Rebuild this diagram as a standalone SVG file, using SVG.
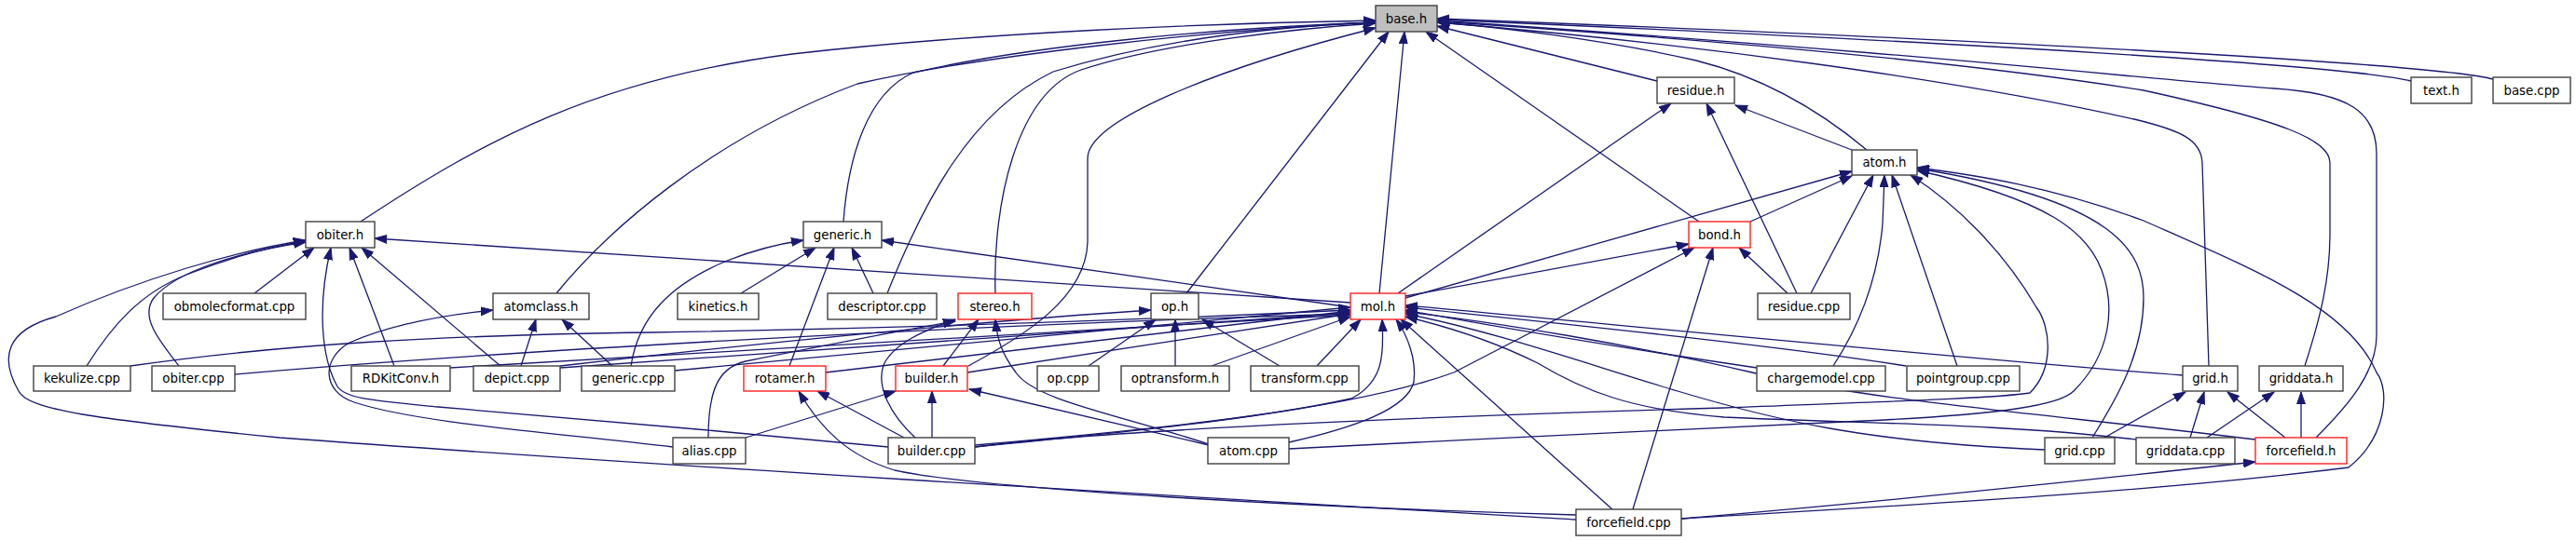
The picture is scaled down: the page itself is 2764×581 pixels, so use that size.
<svg xmlns="http://www.w3.org/2000/svg" width="2764" height="581" viewBox="0 0 2764 581">
<style>
.n rect{fill:#fff;stroke:#404040;stroke-width:1.4}
.r rect{stroke:#ff2020}
.g rect{fill:#bfbfbf}
text{font-family:"DejaVu Sans","Liberation Sans",sans-serif;font-size:13.3px;text-anchor:middle;fill:#000}
#edges path{fill:none;stroke:#191970;stroke-width:1.3;marker-end:url(#a)}
</style>
<defs>
<marker id="a" markerWidth="14" markerHeight="10" refX="13" refY="5" orient="auto" markerUnits="userSpaceOnUse">
<path d="M0,0.5 L13,5 L0,9.5 z" fill="#191970" stroke="#191970" stroke-width="1"/>
</marker>
</defs>
<rect width="2764" height="581" fill="#fff"/>
<g id="edges">
<path d="M387,238 C520,150 640,85 850,58 C1050,35 1300,25 1476,22"/>
<path d="M597,315 C650,250 760,150 920,90 C1050,60 1300,32 1476,24"/>
<path d="M905,238 C910,170 930,100 980,78 C1100,50 1300,30 1476,24"/>
<path d="M952,315 C990,220 1040,120 1130,77 C1250,40 1380,28 1476,24"/>
<path d="M1068,315 C1065,220 1090,100 1160,75 C1250,45 1400,30 1476,25"/>
<path d="M1039,393 C1100,360 1165,320 1167,260 L1167,170 C1167,130 1300,75 1476,30"/>
<path d="M1273,315 L1490,34"/>
<path d="M1480,315 L1507,34"/>
<path d="M1823,238 L1530,34"/>
<path d="M1778,87 L1542,28"/>
<path d="M2003,161 C1960,125 1900,85 1820,65 C1720,42 1600,28 1542,24"/>
<path d="M2587,87 C2520,70 2100,45 1542,21"/>
<path d="M2675,85 C2620,70 2200,45 1542,20"/>
<path d="M2370,393 L2363,175 C2362,150 2340,140 2290,128 C2100,85 1800,45 1542,24"/>
<path d="M2473,393 C2490,340 2500,300 2500,250 L2500,175 C2500,150 2450,130 2300,97 C2100,65 1800,40 1542,23"/>
<path d="M2485,470 C2520,435 2550,400 2550,360 L2550,165 C2550,120 2520,100 2440,95 C2300,85 2100,60 1542,22"/>
<path d="M1987,161 L1862,113"/>
<path d="M1500,315 L1793,111"/>
<path d="M1928,315 L1831,111"/>
<path d="M1508,320 L1987,184"/>
<path d="M1878,238 L1987,189"/>
<path d="M1943,315 L2010,188"/>
<path d="M1967,393 C1995,350 2015,300 2020,240 L2022,188"/>
<path d="M2100,393 L2030,188"/>
<path d="M1046,480 C1200,460 1600,445 1850,438 C2000,432 2140,428 2178,422 C2205,395 2200,350 2185,330 C2150,270 2100,220 2050,188"/>
<path d="M1383,482 C1600,470 1900,458 2000,452 C2150,445 2210,435 2225,420 C2265,380 2270,330 2255,290 C2240,250 2200,215 2057,183"/>
<path d="M2245,470 C2270,430 2300,380 2300,320 C2300,270 2270,215 2057,181"/>
<path d="M1804,557 C2000,545 2300,530 2520,502 C2560,470 2565,420 2550,400 C2520,330 2420,290 2300,237 C2200,200 2120,188 2057,180"/>
<path d="M1508,318 L1812,262"/>
<path d="M1046,478 C1250,460 1450,440 1560,400 L1818,266"/>
<path d="M1752,547 L1838,266"/>
<path d="M1918,315 L1866,266"/>
<path d="M1449,325 L402,256"/>
<path d="M1691,558 C1300,535 700,500 300,470 C100,450 30,440 20,420 C0,385 5,355 60,340 C150,300 250,270 328,258"/>
<path d="M93,393 C120,350 150,315 200,295 C250,275 290,265 328,259"/>
<path d="M192,393 C170,365 150,340 165,320 C190,290 260,270 328,260"/>
<path d="M273,315 L337,266"/>
<path d="M953,480 C800,465 600,448 470,437 C400,430 370,428 362,415 C345,385 340,330 355,266"/>
<path d="M423,393 L375,266"/>
<path d="M537,393 L388,266"/>
<path d="M1449,330 L946,258"/>
<path d="M677,393 C685,340 720,305 780,280 C810,268 835,262 862,258"/>
<path d="M795,315 L875,266"/>
<path d="M847,393 L895,266"/>
<path d="M937,315 L914,266"/>
<path d="M722,480 C600,465 450,455 380,432 C345,420 345,385 375,368 C420,348 480,338 529,333"/>
<path d="M559,393 L575,343"/>
<path d="M657,393 L603,343"/>
<path d="M1012,393 L1050,343"/>
<path d="M1297,477 C1200,445 1110,430 1090,400 C1075,380 1070,365 1068,343"/>
<path d="M982,470 C955,445 940,415 948,392 C958,370 990,355 1025,343"/>
<path d="M760,470 C760,420 770,395 800,388 C880,372 960,356 1025,345"/>
<path d="M1168,393 L1240,343"/>
<path d="M1261,393 L1261,343"/>
<path d="M1373,393 L1290,343"/>
<path d="M601,393 C800,370 1050,345 1235,333"/>
<path d="M1413,393 L1460,343"/>
<path d="M1046,480 C1200,465 1350,450 1450,428 C1485,410 1485,380 1483,343"/>
<path d="M1383,475 C1450,460 1510,440 1517,410 C1520,385 1510,360 1498,343"/>
<path d="M1730,547 L1503,343"/>
<path d="M1885,395 C1750,375 1600,350 1508,333"/>
<path d="M2045,393 C1900,370 1650,345 1508,330"/>
<path d="M2342,403 C2100,385 1750,350 1508,328"/>
<path d="M2194,483 C2000,475 1900,450 1800,420 C1700,390 1600,355 1508,337"/>
<path d="M2292,472 C2150,455 2000,455 1850,448 C1750,440 1700,420 1650,390 C1600,365 1550,350 1508,340"/>
<path d="M2420,472 C2200,445 2000,430 1880,400 C1750,370 1600,345 1508,335"/>
<path d="M140,393 C300,370 470,360 700,357 C1000,352 1300,340 1449,333"/>
<path d="M252,402 C500,380 1000,350 1449,337"/>
<path d="M483,395 L1449,338"/>
<path d="M601,395 L1449,336"/>
<path d="M724,398 L1449,330"/>
<path d="M886,400 L1449,334"/>
<path d="M1038,400 L1449,337"/>
<path d="M1300,393 L1449,340"/>
<path d="M1000,470 L1000,420"/>
<path d="M800,470 L961,420"/>
<path d="M1297,478 L1040,418"/>
<path d="M970,470 L877,420"/>
<path d="M1691,553 C1400,545 1050,525 960,505 C910,490 880,460 857,420"/>
<path d="M2258,470 L2345,421"/>
<path d="M2350,470 L2365,421"/>
<path d="M2452,470 L2390,421"/>
<path d="M2368,470 L2440,421"/>
<path d="M2469,470 L2469,421"/>
<path d="M1804,557 C1950,545 2200,520 2420,496"/>
</g>
<g id="base_h" class="n g"><rect x="1476" y="6" width="66" height="28"/><text x="1509" y="25">base.h</text></g>
<g id="residue_h" class="n"><rect x="1778" y="83" width="83" height="28"/><text x="1819.5" y="102">residue.h</text></g>
<g id="text_h" class="n"><rect x="2587" y="83" width="65" height="28"/><text x="2619.5" y="102">text.h</text></g>
<g id="base_cpp" class="n"><rect x="2675" y="83" width="83" height="28"/><text x="2716.5" y="102">base.cpp</text></g>
<g id="atom_h" class="n"><rect x="1987" y="161" width="70" height="27"/><text x="2022" y="179">atom.h</text></g>
<g id="obiter_h" class="n"><rect x="328" y="238" width="74" height="28"/><text x="365" y="257">obiter.h</text></g>
<g id="generic_h" class="n"><rect x="862" y="238" width="84" height="28"/><text x="904" y="257">generic.h</text></g>
<g id="bond_h" class="n r"><rect x="1812" y="238" width="66" height="28"/><text x="1845" y="257">bond.h</text></g>
<g id="obmolecformat_cpp" class="n"><rect x="175" y="315" width="153" height="28"/><text x="251.5" y="334">obmolecformat.cpp</text></g>
<g id="atomclass_h" class="n"><rect x="529" y="315" width="103" height="28"/><text x="580.5" y="334">atomclass.h</text></g>
<g id="kinetics_h" class="n"><rect x="727" y="315" width="87" height="28"/><text x="770.5" y="334">kinetics.h</text></g>
<g id="descriptor_cpp" class="n"><rect x="888" y="315" width="117" height="28"/><text x="946.5" y="334">descriptor.cpp</text></g>
<g id="stereo_h" class="n r"><rect x="1028" y="315" width="79" height="28"/><text x="1067.5" y="334">stereo.h</text></g>
<g id="op_h" class="n"><rect x="1235" y="315" width="51" height="28"/><text x="1260.5" y="334">op.h</text></g>
<g id="mol_h" class="n r"><rect x="1449" y="315" width="59" height="28"/><text x="1478.5" y="334">mol.h</text></g>
<g id="residue_cpp" class="n"><rect x="1886" y="315" width="99" height="28"/><text x="1935.5" y="334">residue.cpp</text></g>
<g id="kekulize_cpp" class="n"><rect x="36" y="393" width="104" height="27"/><text x="88" y="411">kekulize.cpp</text></g>
<g id="obiter_cpp" class="n"><rect x="163" y="393" width="89" height="27"/><text x="207.5" y="411">obiter.cpp</text></g>
<g id="RDKitConv_h" class="n"><rect x="377" y="393" width="106" height="27"/><text x="430" y="411">RDKitConv.h</text></g>
<g id="depict_cpp" class="n"><rect x="508" y="393" width="93" height="27"/><text x="554.5" y="411">depict.cpp</text></g>
<g id="generic_cpp" class="n"><rect x="624" y="393" width="100" height="27"/><text x="674" y="411">generic.cpp</text></g>
<g id="rotamer_h" class="n r"><rect x="798" y="393" width="88" height="27"/><text x="842" y="411">rotamer.h</text></g>
<g id="builder_h" class="n r"><rect x="961" y="393" width="77" height="27"/><text x="999.5" y="411">builder.h</text></g>
<g id="op_cpp" class="n"><rect x="1113" y="393" width="66" height="27"/><text x="1146" y="411">op.cpp</text></g>
<g id="optransform_h" class="n"><rect x="1203" y="393" width="116" height="27"/><text x="1261" y="411">optransform.h</text></g>
<g id="transform_cpp" class="n"><rect x="1342" y="393" width="116" height="27"/><text x="1400" y="411">transform.cpp</text></g>
<g id="chargemodel_cpp" class="n"><rect x="1885" y="393" width="138" height="27"/><text x="1954" y="411">chargemodel.cpp</text></g>
<g id="pointgroup_cpp" class="n"><rect x="2046" y="393" width="121" height="27"/><text x="2106.5" y="411">pointgroup.cpp</text></g>
<g id="grid_h" class="n"><rect x="2342" y="393" width="59" height="27"/><text x="2371.5" y="411">grid.h</text></g>
<g id="griddata_h" class="n"><rect x="2424" y="393" width="90" height="27"/><text x="2469" y="411">griddata.h</text></g>
<g id="alias_cpp" class="n"><rect x="722" y="470" width="78" height="28"/><text x="761" y="489">alias.cpp</text></g>
<g id="builder_cpp" class="n"><rect x="953" y="470" width="93" height="28"/><text x="999.5" y="489">builder.cpp</text></g>
<g id="atom_cpp" class="n"><rect x="1296" y="470" width="87" height="28"/><text x="1339.5" y="489">atom.cpp</text></g>
<g id="grid_cpp" class="n"><rect x="2194" y="470" width="75" height="28"/><text x="2231.5" y="489">grid.cpp</text></g>
<g id="griddata_cpp" class="n"><rect x="2292" y="470" width="106" height="28"/><text x="2345" y="489">griddata.cpp</text></g>
<g id="forcefield_h" class="n r"><rect x="2420" y="470" width="98" height="28"/><text x="2469" y="489">forcefield.h</text></g>
<g id="forcefield_cpp" class="n"><rect x="1691" y="547" width="113" height="28"/><text x="1747.5" y="566">forcefield.cpp</text></g>
</svg>
